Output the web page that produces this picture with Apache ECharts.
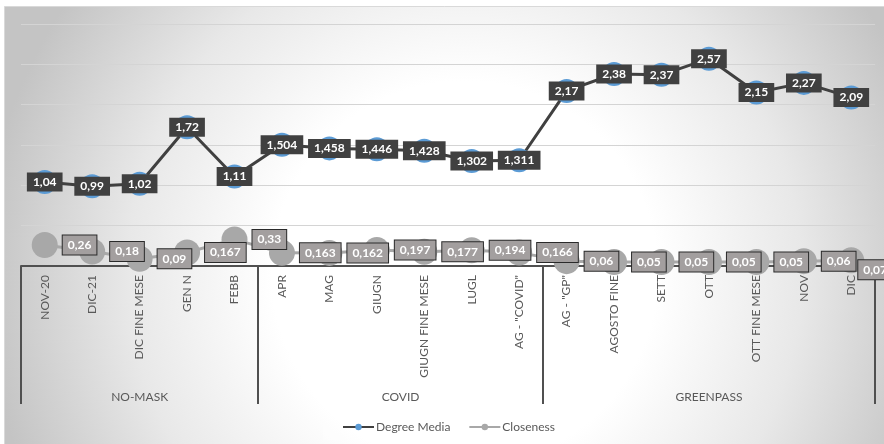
<!DOCTYPE html>
<html>
<head>
<meta charset="utf-8">
<script src="https://cdn.jsdelivr.net/npm/echarts@6/dist/echarts.min.js"></script>
<style>
html,body{margin:0;padding:0;background:#fff;}
#chart{width:884px;height:444px;}
</style>
</head>
<body>
<div id="chart"></div>
<script>
var categories = ["NOV-20","DIC-21","DIC FINE MESE","GEN N","FEBB","APR","MAG","GIUGN","GIUGN FINE MESE","LUGL","AG - \"COVID\"","AG - \"GP\"","AGOSTO FINE","SETT","OTT","OTT FINE MESE","NOV","DIC"];
var degreeMedia = [1.04, 0.99, 1.02, 1.72, 1.11, 1.504, 1.458, 1.446, 1.428, 1.302, 1.311, 2.17, 2.38, 2.37, 2.57, 2.15, 2.27, 2.09];
var closeness = [0.26, 0.18, 0.09, 0.167, 0.33, 0.163, 0.162, 0.197, 0.177, 0.194, 0.166, 0.06, 0.05, 0.05, 0.05, 0.05, 0.06, 0.07];
var groupNames = ["NO-MASK", "COVID", "GREENPASS"];
var groupBoundaries = [0, 5, 11, 18];
var groupCenters = [2.5, 8, 14.5];

var FONT = "Lato, 'Open Sans', sans-serif";
function fmt(v){ return String(v).replace('.', ','); }

var chart = echarts.init(document.getElementById('chart'));
chart.setOption({
  animation: false,
  textStyle: { fontFamily: FONT },
  graphic: [{
    type: 'rect', silent: true, z: -100,
    shape: { x: 4.5, y: 6.5, width: 885, height: 445 },
    style: {
      fill: new echarts.graphic.RadialGradient(0.52, 0.6, 1.08, [
        { offset: 0, color: '#ffffff' },
        { offset: 0.4, color: '#ffffff' },
        { offset: 0.7, color: '#e8e8e8' },
        { offset: 1, color: '#c4c4c4' }
      ]),
      stroke: '#d9d9d9', lineWidth: 1
    }
  }],
  grid: { left: 21, right: 9, top: 24, bottom: 178 },
  legend: {
    bottom: 4,
    left: 323,
    padding: [7, 18, 7, 19],
    backgroundColor: 'rgba(255,255,255,0.3)',
    itemWidth: 31, itemHeight: 8, itemGap: 18,
    textStyle: { color: '#595959', fontSize: 12, fontFamily: FONT, padding: [0,0,0,-3] },
    data: ['Degree Media', 'Closeness']
  },
  xAxis: [{
    type: 'category',
    data: categories,
    boundaryGap: true,
    axisLine: { lineStyle: { color: '#505050', width: 2 } },
    axisTick: { show: false },
    axisLabel: { rotate: 90, color: '#595959', fontSize: 12, margin: 9, interval: 0, fontFamily: FONT },
    splitLine: { show: false }
  }, {
    type: 'value',
    min: 0, max: 18,
    position: 'bottom',
    axisLine: { show: false },
    axisTick: { show: true, customValues: groupBoundaries, length: 138, inside: false, lineStyle: { color: '#505050', width: 2 } },
    axisLabel: {
      show: true, customValues: groupCenters, margin: 125, color: '#595959', fontSize: 12, fontFamily: FONT,
      formatter: function(v){ var i = groupCenters.indexOf(v); return i >= 0 ? groupNames[i] : ''; }
    },
    splitLine: { show: false }
  }],
  yAxis: {
    type: 'value', min: 0, max: 3, interval: 0.5,
    axisLine: { show: false }, axisTick: { show: false }, axisLabel: { show: false },
    splitLine: { lineStyle: { color: '#d4d4d4', width: 1 } }
  },
  series: [{
    name: 'Degree Media',
    type: 'line',
    data: degreeMedia,
    symbol: 'circle', symbolSize: 24,
    itemStyle: { color: '#5B9BD5' },
    lineStyle: { color: '#404040', width: 3 },
    label: {
      show: true, position: 'inside', color: '#ffffff', fontWeight: 'bold', fontSize: 12, fontFamily: FONT,
      backgroundColor: '#404040', padding: [4, 6, 3, 6],
      formatter: function(p){ return fmt(p.value); }
    },
    z: 3
  }, {
    name: 'Closeness',
    type: 'line',
    data: closeness,
    symbol: 'circle', symbolSize: 26,
    itemStyle: { color: '#a8a8a8' },
    lineStyle: { color: '#a8a8a8', width: 3 },
    label: {
      show: true, position: 'right', distance: 5, color: '#ffffff', fontWeight: 'bold', fontSize: 12, fontFamily: FONT,
      backgroundColor: '#a39f9f', borderColor: '#2a2a2a', borderWidth: 1, padding: [4, 5, 3, 5],
      formatter: function(p){ return fmt(p.value); }
    },
    labelLayout: function(params){
      var r = params.labelRect;
      if (r.x + r.width > 884) { return { x: r.x - 10 }; }
      return {};
    },
    z: 2
  }]
});
</script>
</body>
</html>
